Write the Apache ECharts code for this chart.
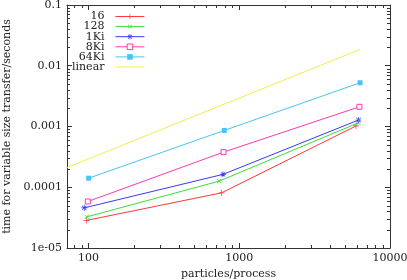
<!DOCTYPE html>
<html><head><meta charset="utf-8">
<script src="https://cdn.jsdelivr.net/npm/echarts@6/dist/echarts.min.js"></script>
<style>html,body{margin:0;padding:0;background:#fff}#c{width:407px;height:280px}</style>
</head><body><div id="c"></div>
<script>
// ---- data ----
const seriesNames = ['16', '128', '1Ki', '8Ki', '64Ki', 'linear'];
const x16 = [96.7, 764, 5950];
const y16 = [2.84e-5, 8.1e-5, 1.02e-3];
const x128 = [97.3, 735, 6170];
const y128 = [3.25e-5, 1.26e-4, 1.15e-3];
const x1Ki = [93.8, 780, 6190];
const y1Ki = [4.58e-5, 1.63e-4, 1.28e-3];
const x8Ki = [99, 787, 6270];
const y8Ki = [5.83e-5, 3.79e-4, 2.11e-3];
const x64Ki = [100.3, 796, 6330];
const y64Ki = [1.41e-4, 8.62e-4, 5.25e-3];
const xLinear = [60, 6330];
const yLinear = [1.76e-4, 1.86e-2];
const xTickValues = [100, 1000, 10000];
const xTickLabels = ['100', '1000', '10000'];
const yTickValues = [1e-5, 1e-4, 1e-3, 1e-2, 1e-1];
const yTickLabels = ['1e-05', '0.0001', '0.001', '0.01', '0.1'];
const xMinor = [80, 90, 200, 300, 400, 500, 600, 700, 800, 900, 2000, 3000, 4000, 5000, 6000, 7000, 8000, 9000];
const yMinor = [2e-5,3e-5,4e-5,5e-5,6e-5,7e-5,8e-5,9e-5, 2e-4,3e-4,4e-4,5e-4,6e-4,7e-4,8e-4,9e-4, 2e-3,3e-3,4e-3,5e-3,6e-3,7e-3,8e-3,9e-3, 2e-2,3e-2,4e-2,5e-2,6e-2,7e-2,8e-2,9e-2];

const colors = ['#ff3838', '#38e038', '#3838ff', '#ff38b4', '#48c4f4', '#f4ec48'];
const FONT = 'DejaVu Serif';
const AX = '#333';

const PLUS = 'path://M0,4.4H10V5.6H0Z M4.4,0H5.6V10H4.4Z';
const STAR = 'path://M0,4.4H10V5.6H0Z M4.4,0H5.6V10H4.4Z M1,1.8L1.8,1L9,8.2L8.2,9Z M9,1.8L8.2,1L1,8.2L1.8,9Z';

function pair(xs, ys) { return xs.map((x, i) => [x, ys[i]]); }
function fmt(vals, labels) {
  return function (v) {
    for (let i = 0; i < vals.length; i++) {
      if (Math.abs(Math.log10(v) - Math.log10(vals[i])) < 1e-6) return labels[i];
    }
    return '';
  };
}

const chart = echarts.init(document.getElementById('c'), null, {renderer: 'canvas'});
const axCommon = {
  type: 'log', logBase: 10,
  axisLine: {show: true, lineStyle: {color: AX, width: 1}},
  axisTick: {show: true, inside: true, length: 5, lineStyle: {color: AX}},
  splitLine: {show: false},
  minorTick: {show: false}
};
const spec = [
  {data: pair(x16, y16), symbol: PLUS, symbolSize: 6, ist: {borderWidth: 0}},
  {data: pair(x128, y128), symbol: PLUS, symbolSize: 6, symbolRotate: 45, ist: {borderWidth: 0}},
  {data: pair(x1Ki, y1Ki), symbol: STAR, symbolSize: 6, ist: {borderWidth: 0}},
  {data: pair(x8Ki, y8Ki), symbol: 'rect', symbolSize: 5, ist: {color: '#fff', borderWidth: 1}},
  {data: pair(x64Ki, y64Ki), symbol: 'rect', symbolSize: 5, ist: {borderWidth: 0}},
  {data: pair(xLinear, yLinear), symbol: 'none', ist: {borderWidth: 0}}
];
const series = spec.map((s, i) => ({
  type: 'line', name: seriesNames[i], data: s.data,
  xAxisIndex: 0, yAxisIndex: 0,
  symbol: s.symbol, symbolSize: s.symbolSize || 0, symbolRotate: s.symbolRotate || 0,
  showSymbol: s.symbol !== 'none',
  lineStyle: {color: colors[i], width: 1},
  itemStyle: Object.assign({color: colors[i], borderColor: colors[i]}, s.ist),
  clip: true, animation: false, silent: true
}));

chart.setOption({
  animation: false,
  backgroundColor: '#fff',
  grid: {left: 67, top: 5, width: 323, height: 243, containLabel: false, outerBoundsMode: 'none'},
  legend: {
    show: true, orient: 'vertical', align: 'right',
    left: 72, top: 11, padding: 0,
    itemWidth: 29, itemHeight: 7, itemGap: -0.9,
    selectedMode: false,
    textStyle: {fontFamily: FONT, fontSize: 11, color: '#222', lineHeight: 9, padding: [0, 6, 0, 0]},
    data: seriesNames.map((n, i) => ({
      name: n,
      lineStyle: {color: colors[i], width: 1},
      itemStyle: Object.assign({color: colors[i], borderColor: colors[i]}, spec[i].ist, i === 5 ? {opacity: 0} : {})
    }))
  },
  xAxis: [
    Object.assign({}, axCommon, {
      position: 'bottom', min: 72, max: 10000,
      axisLabel: {show: true, margin: 5, fontFamily: FONT, fontSize: 11, color: '#222',
        showMinLabel: false, formatter: fmt(xTickValues, xTickLabels)},
      name: 'particles/process', nameLocation: 'middle', nameGap: 16,
      nameTextStyle: {fontFamily: FONT, fontSize: 11, color: '#222'}
    }),
    Object.assign({}, axCommon, {
      position: 'top', min: 72, max: 10000, axisLabel: {show: false}
    })
  ],
  yAxis: [
    Object.assign({}, axCommon, {
      position: 'left', min: 1e-5, max: 0.1,
      axisLabel: {show: true, margin: 5, fontFamily: FONT, fontSize: 11, color: '#222',
        formatter: fmt(yTickValues, yTickLabels)},
      name: 'time for variable size transfer/seconds', nameLocation: 'middle', nameGap: 47,
      nameTextStyle: {fontFamily: FONT, fontSize: 11, color: '#222'}
    }),
    Object.assign({}, axCommon, {
      position: 'right', min: 1e-5, max: 0.1, axisLabel: {show: false}
    })
  ],
  series: series
});

// minor ticks (2..9 per decade), placed through the chart's own scales
const gEls = [];
const TL = 3;
function ln(x1, y1, x2, y2) {
  gEls.push({type: 'line', silent: true, z: 100,
    shape: {x1: x1, y1: y1, x2: x2, y2: y2}, style: {stroke: AX, lineWidth: 1}});
}
const pTop = chart.convertToPixel({gridIndex: 0}, [100, 0.1])[1];
const pBot = chart.convertToPixel({gridIndex: 0}, [100, 1e-5])[1];
const pLeft = chart.convertToPixel({gridIndex: 0}, [72, 1e-3])[0];
const pRight = chart.convertToPixel({gridIndex: 0}, [10000, 1e-3])[0];
xMinor.forEach(v => {
  const px = Math.round(chart.convertToPixel({xAxisIndex: 0}, v)) + 0.5;
  ln(px, pBot, px, pBot - TL);
  ln(px, pTop, px, pTop + TL);
});
yMinor.forEach(v => {
  const py = Math.round(chart.convertToPixel({yAxisIndex: 0}, v)) + 0.5;
  ln(pLeft, py, pLeft + TL, py);
  ln(pRight, py, pRight - TL, py);
});
chart.setOption({graphic: gEls});
</script>
</body></html>
